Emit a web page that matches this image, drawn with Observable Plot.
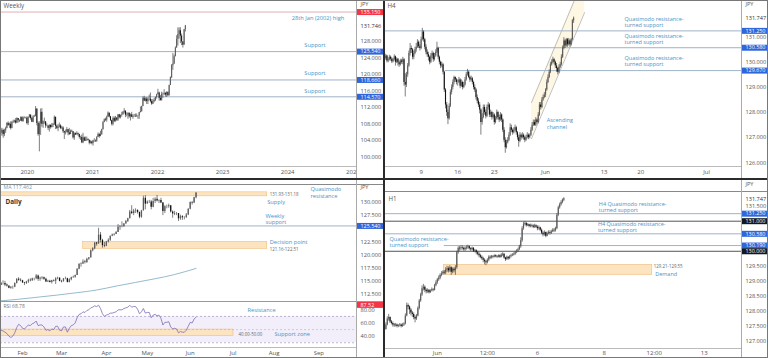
<!DOCTYPE html>
<html><head><meta charset="utf-8">
<script src="https://cdn.jsdelivr.net/npm/d3@7"></script>
<script src="https://cdn.jsdelivr.net/npm/@observablehq/plot@0.6"></script>
<style>
html,body{margin:0;padding:0;background:#fff;}
#root{position:relative;width:768px;height:358px;overflow:hidden;background:#fff;font-family:"Open Sans",sans-serif;}
#root svg{display:block;}
</style></head><body><div id="root"></div>
<script>
// ===================== DATA =====================
// ---- Weekly (weeks from 5 Aug 2019 to 6 Jun 2022) ----
const wkOpen0 = 106.6;
const wkClose = [
105.7,106.4,105.4,106.3, 106.9,108.1,107.6,107.9,106.9, 108.3,108.4,108.7,108.2, 109.3,108.8,108.7,109.5, 108.6,109.4,109.4,109.4,108.1,
109.5,110.1,109.3,108.4, 109.7,109.8,111.6,108.1, 105.4,108.0,110.8,107.9,108.5, 108.5,107.5,107.5,106.9, 107.6,107.1,107.6,107.8, 109.6,107.4,106.9,107.2,107.5, 106.9,107.0,106.1,105.8, 105.9,106.6,105.8,105.4,106.2, 106.1,104.6,105.6,105.3, 105.6,105.4,104.7,104.7, 103.4,104.6,103.8,104.1,104.2, 104.0,103.3,103.6,103.2,
103.9,103.9,103.8,104.7, 105.4,104.9,105.4,106.6, 108.3,109.0,108.9,109.6,110.6, 109.7,108.8,107.9,109.3, 108.6,109.4,108.9,110.2,109.5, 110.1,110.2,110.8,111.1, 110.1,110.1,110.6,109.7, 110.2,109.6,109.8,109.8,109.7, 109.9,109.9,110.7,111.0, 112.2,114.2,113.5,114.0, 113.4,114.0,114.0,113.4,112.8, 113.4,113.7,114.4,115.1,
115.5,114.2,113.7,115.2,115.2, 115.4,115.0,115.6,114.8, 117.3,119.2,122.1,122.5, 124.3,126.4,128.5,129.7, 130.6,129.3,127.9,127.1,130.9, 131.75];
const wkHigh = [
107.0,106.9,106.7,106.7, 107.2,108.3,108.5,108.2,108.5, 108.6,108.9,108.9,109.3, 109.5,109.3,109.0,109.7, 109.7,109.7,109.7,109.6,109.7,
109.7,110.3,110.2,109.6, 110.0,110.1,112.2,111.6, 108.5,108.5,111.6,111.7,108.7, 109.4,108.1,108.0,107.5, 107.8,107.8,108.1,108.1, 109.9,109.6,107.7,107.8,108.2, 107.8,107.4,107.3,106.2, 106.5,107.1,106.6,106.9,106.5, 106.5,106.1,105.8,105.8, 106.1,105.8,105.5,105.0, 105.3,105.7,104.8,104.8,104.8, 104.4,104.1,103.9,103.8,
104.0,104.4,104.1,104.9, 105.8,105.7,106.2,106.7, 108.6,109.2,109.4,109.9,110.9, 110.5,109.8,108.9,109.7, 109.7,109.8,109.5,110.2,110.3, 110.1,110.8,111.0,111.7, 111.0,110.7,110.6,110.6, 110.4,110.8,110.2,110.3,110.4, 110.4,110.0,110.8,112.1, 112.3,114.5,114.7,114.3, 114.4,114.3,115.0,115.5,113.9, 113.9,114.2,114.5,115.2,
116.4,115.7,114.9,115.7,115.5, 116.3,115.6,115.8,115.8, 117.4,119.4,122.4,125.1, 124.7,126.7,129.4,131.3, 131.3,131.35,129.8,127.6,130.9, 131.9];
const wkLow = [
105.3,105.0,104.5,104.9, 105.7,106.8,107.4,106.9,106.5, 106.8,108.1,108.2,107.9, 108.1,108.2,108.3,108.6, 108.4,108.4,109.2,109.2,107.8,
107.6,109.4,108.9,108.3, 108.3,109.6,109.7,107.5, 105.0,101.2,105.2,107.2,106.9, 107.9,106.9,107.3,106.4, 106.0,106.7,107.0,107.1, 107.6,106.6,106.6,106.1,107.0, 106.6,106.6,105.7,104.2, 105.3,105.8,105.1,105.2,105.6, 105.9,104.3,104.0,105.2, 105.3,105.0,104.3,104.0, 103.2,103.2,103.7,103.9,103.7, 103.9,102.9,103.1,102.9,
102.6,103.5,103.5,103.5, 104.7,104.5,104.9,105.2, 106.5,108.3,108.6,108.4,109.7, 109.4,108.6,107.5,107.5, 108.3,108.4,108.6,108.6,109.2, 109.2,109.6,110.1,110.4, 109.5,109.7,109.1,109.4, 108.7,109.5,109.1,109.6,109.6, 109.6,109.1,109.1,110.7, 110.8,112.3,113.4,113.3, 112.7,112.7,113.6,113.1,112.5, 112.7,113.1,113.4,114.0,
115.0,113.5,113.5,113.5,114.2, 114.9,114.5,114.4,114.7, 114.8,117.3,119.0,121.0, 122.4,124.3,126.4,126.9, 128.6,127.5,127.0,126.4,127.4, 130.3];
const wkSupports = [125.54, 118.66, 114.57];
const wkHistHigh = 135.15;
const wkAxisTicks = [100, 104, 108, 112, 116, 120, 124, 128];
const wkLastPrice = 131.746;
const wkYears = [2020, 2021, 2022, 2023, 2024, 2025];
const wkNotes = [
  {t: "28th Jan (2002) high", x: "2024-06-19", p: 133.75},
  {t: "Support", x: "2024-06-02", p: 127.03},
  {t: "Support", x: "2024-06-02", p: 120.31},
  {t: "Support", x: "2024-06-02", p: 115.94}
];

// ---- H4 (bars from 2 May to 6 Jun 2022, six per day) ----
const h4Open0 = 130.10;
const h4Close = [
130.15,130.25,130.05,130.10,130.20,130.12, 130.02,130.10,130.22,130.00,130.12,129.98,
129.90,130.05,130.00,130.10,129.20,129.10, 129.50,129.85,130.35,130.55,130.50,130.20,
130.35,130.50,130.60,130.80,130.62,130.55, 130.90,131.20,130.90,130.60,130.40,130.30,
130.20,130.00,130.25,130.35,130.10,130.25, 130.40,130.55,130.20,130.00,129.85,129.90,
129.60,128.90,128.30,128.00,127.75,128.25, 128.80,129.00,129.20,129.40,129.30,129.20,
129.20,129.30,129.05,129.20,129.00,129.10, 129.30,129.50,129.60,129.40,129.30,129.35,
129.20,129.00,128.90,128.60,128.45,128.30, 128.10,127.60,127.80,128.20,128.00,127.85,
128.20,128.30,127.90,128.00,127.80,127.90, 127.60,127.75,128.00,127.80,127.70,127.90,
127.70,127.30,126.90,126.60,126.80,126.90, 127.10,127.40,127.30,127.20,127.30,127.40,
127.20,127.00,126.85,127.10,127.00,127.10, 127.00,126.90,127.00,127.10,127.00,127.10,
127.30,127.50,127.60,127.50,127.70,127.60, 127.90,128.30,128.20,128.50,128.60,128.70,
128.90,129.20,129.40,129.60,129.90,130.00, 130.10,130.00,129.85,129.75,129.60,129.80,
129.90,130.20,130.55,130.85,130.65,130.90, 130.70,130.85,130.70,130.90,131.65,131.75];
const h4High = [
130.25,130.32,130.28,130.18,130.28,130.25, 130.18,130.15,130.30,130.25,130.18,130.15,
130.05,130.12,130.12,130.20,130.15,129.55, 129.60,129.95,130.45,130.75,130.65,130.55,
130.45,130.60,130.75,130.90,130.85,130.70, 131.00,131.35,131.25,130.95,130.70,130.50,
130.40,130.25,130.35,130.45,130.40,130.35, 130.50,130.80,130.60,130.25,130.05,130.00,
129.95,129.65,128.95,128.40,128.10,128.35, 128.90,129.10,129.30,129.45,129.42,129.35,
129.30,129.40,129.35,129.30,129.25,129.20, 129.40,129.60,129.72,129.65,129.45,129.45,
129.40,129.25,129.10,128.95,128.70,128.55, 128.40,128.15,127.95,128.30,128.30,128.10,
128.30,128.40,128.35,128.10,128.05,128.00, 127.95,127.85,128.10,128.05,127.90,128.00,
127.95,127.75,127.40,127.00,126.90,127.00, 127.20,127.55,127.50,127.35,127.40,127.50,
127.45,127.25,127.10,127.20,127.15,127.20, 127.15,127.05,127.10,127.20,127.15,127.15,
127.40,127.60,127.70,127.70,127.80,127.75, 128.00,128.40,128.40,128.60,128.70,128.80,
128.95,129.30,129.50,129.70,130.00,130.10, 130.20,130.15,130.05,129.95,129.80,129.90,
130.00,130.30,130.65,130.98,130.90,130.95, 130.95,130.95,130.90,130.95,131.70,131.80];
const h4Low = [
130.02,130.08,129.98,129.98,130.05,130.05, 129.95,129.98,130.05,129.85,129.95,129.85,
129.80,129.85,129.92,129.90,129.05,128.62, 129.00,129.40,129.80,130.25,130.35,130.10,
130.10,130.30,130.40,130.55,130.55,130.45, 130.50,130.85,130.80,130.50,130.30,130.20,
130.05,129.90,129.95,130.15,130.00,130.05, 130.20,130.35,130.10,129.90,129.75,129.78,
129.50,128.80,128.15,127.85,127.52,127.70, 128.20,128.70,128.90,129.10,129.20,129.10,
129.05,129.15,128.95,129.00,128.90,128.95, 129.05,129.25,129.45,129.35,129.20,129.25,
129.10,128.90,128.80,128.50,128.35,128.20, 127.95,127.10,127.50,127.75,127.90,127.75,
127.80,128.10,127.80,127.80,127.70,127.75, 127.50,127.55,127.70,127.70,127.60,127.65,
127.60,127.20,126.80,126.38,126.55,126.75, 126.85,127.05,127.20,127.10,127.15,127.25,
127.10,126.90,126.62,126.80,126.90,126.95, 126.90,126.80,126.85,126.95,126.92,126.95,
127.05,127.25,127.45,127.45,127.45,127.55, 127.55,127.85,128.10,128.15,128.45,128.55,
128.60,128.85,129.15,129.35,129.55,129.85, 129.95,129.90,129.75,129.60,129.50,129.55,
129.75,129.85,130.15,130.50,130.55,130.60, 130.60,130.65,130.60,130.65,130.85,131.55];
const h4Levels = [{v: 131.25, from: 0}, {v: 130.58, from: 43}, {v: 129.67, from: 50}];
const h4Channel = [{i: 120.5, lo: 126.96, hi: 128.40}, {i: 164, lo: 131.98, hi: 133.43}];
const h4TickIdx = [30, 60, 90, 132, 180, 210, 264];
const h4TickLab = ["9", "16", "23", "Jun", "13", "20", "Jul"];
const h4AxisTicks = [126, 127, 128, 129, 130, 131];
const h4LastPrice = 131.747;
const h4Notes = [
  {t: "Quasimodo resistance-\nturned support", i: 196.7, p: 131.61},
  {t: "Quasimodo resistance-\nturned support", i: 196.7, p: 130.93},
  {t: "Quasimodo resistance-\nturned support", i: 196.7, p: 130.06},
  {t: "Ascending\nchannel", i: 133, p: 127.56}
];

// ---- Daily (trading days 17 Jan to 6 Jun 2022, index 1..101) ----
const dOpen0 = 114.2;
const dClose = [
114.6,114.6,114.3,114.1,113.7, 113.9,113.9,114.6,115.4,115.2, 115.1,114.7,114.6,114.9,115.2,
115.1,115.5,115.5,116.0,115.4, 115.6,115.7,115.4,114.9,115.0, 114.8,115.1,115.0,115.5,115.6,
115.0,114.9,115.5,115.5,114.8, 115.3,115.7,115.8,116.1,117.3, 118.2,118.3,118.7,118.6,119.2,
119.5,120.8,121.2,122.3,122.1, 123.8,122.8,121.8,121.7,122.5, 122.8,123.6,123.8,123.9,124.3,
125.3,125.4,125.4,125.9,126.4, 126.9,128.2,127.9,128.4,128.5, 128.1,127.2,128.4,130.8,129.7,
130.1,130.1,129.1,130.2,130.6, 130.3,130.4,129.9,128.3,129.2, 129.2,129.4,128.2,127.8,127.9,
127.9,126.9,127.3,127.1,127.1, 127.6,128.7,130.0,129.9,130.9, 131.75];
const dHigh = [
114.8,115.1,115.0,114.5,114.1, 114.0,114.1,114.7,115.5,115.7, 115.5,115.2,114.8,115.0,115.4,
115.5,115.6,115.6,116.3,116.2, 115.8,115.9,115.8,115.6,115.2, 115.2,115.2,115.3,115.7,115.8,
115.7,115.2,115.5,115.8,115.6, 115.5,115.8,116.0,116.2,117.4, 118.4,118.5,119.1,119.0,119.4,
119.5,121.0,121.4,122.4,122.4, 125.1,124.3,123.0,122.4,122.6, 123.1,123.6,124.0,124.1,124.5,
125.8,125.6,126.3,126.0,126.6, 127.0,128.5,129.4,128.7,128.8, 128.6,128.2,128.5,131.2,131.3,
130.3,130.4,130.4,130.8,130.9, 131.35,130.5,130.8,130.0,129.4, 129.5,129.7,129.4,128.4,128.3,
128.1,127.9,127.6,127.5,127.3, 127.9,128.8,130.1,130.2,131.0, 131.9];
const dLow = [
114.2,114.3,114.0,113.9,113.6, 113.5,113.5,113.8,114.5,115.0, 114.9,114.6,114.2,114.4,114.6,
114.9,115.0,115.1,115.3,115.0, 115.0,115.3,115.2,114.8,114.8, 114.7,114.5,114.9,114.4,115.3,
114.9,114.7,114.9,115.3,114.7, 114.7,115.1,115.6,115.6,116.1, 117.2,117.7,118.2,118.3,118.4,
119.0,119.4,120.6,121.0,121.7, 122.4,122.3,121.3,121.4,121.6, 122.3,122.6,123.5,123.6,123.9,
124.3,124.7,125.2,125.3,126.0, 126.2,126.9,127.7,127.5,127.9, 127.8,126.9,127.0,128.4,128.6,
129.7,129.8,128.6,129.0,129.8, 130.1,129.8,129.8,127.5,127.9, 128.8,128.9,128.0,127.0,127.5,
127.5,126.4,126.6,126.6,126.7, 127.0,127.5,128.6,129.5,129.8, 130.7];
const dMaIdx = [1, 10, 20, 30, 40, 50, 60, 70, 80, 90, 101];
const dMaVal = [111.3, 111.6, 112.0, 112.4, 112.85, 113.35, 114.1, 114.8, 115.5, 116.3, 117.46];
const dRsi = [
49,48,46,44,40, 38,40,45,53,58, 56,52,51,54,57, 56,59,60,63,56, 57,57,54,49,50,
48,51,50,55,55, 49,48,54,54,46, 52,56,57,60,68, 73,74,77,76,79, 80,83,84,86,85,
87,82,74,70,72, 73,75,75,76,77, 80,80,80,82,83, 84,87,84,85,85, 81,74,77,82,75,
76,76,68,72,73, 71,72,67,57,61, 61,62,54,51,52, 51,45,47,46,46, 49,55,61,60,66, 69];
const dZones = [{from: 0, to: 137.5, lo: 131.18, hi: 131.93}, {from: 43.1, to: 137.5, lo: 121.16, hi: 122.51}];
const dWeeklySupport = 125.54;
const dTickIdx = [12, 32, 55, 76, 98, 120, 141, 164];
const dTickLab = ["Feb", "Mar", "Apr", "May", "Jun", "Jul", "Aug", "Sep"];
const dAxisTicks = [112.5, 115, 117.5, 120, 122.5, 127.5, 130];
const dNotes = [
  {t: "Quasimodo\nresistance", i: 159.7, p: 131.94},
  {t: "Supply", i: 137.5, p: 130.13},
  {t: "Weekly\nsupport", i: 136.6, p: 126.86},
  {t: "Decision point", i: 138.8, p: 122.52}
];
const dRangeNotes = [{t: "131.93-131.18", i: 138.8, p: 131.52}, {t: "121.16-122.51", i: 138.8, p: 121.12}];
const rsiBand = [{lo: 30, hi: 70}];
const rsiZone = [{from: 0, to: 120.2, lo: 40, hi: 50}];
const rsiDashes = [70, 30];
const rsiMid = [50];
const rsiAxisTicks = [40, 60, 80];
const rsiTag = 87.52;
const rsiNotes = [{t: "Resistance", i: 127.4, v: 80}, {t: "Support zone", i: 141.2, v: 43}];
const rsiRangeNote = [{t: "40.00-50.00", i: 122.8, v: 43}];

// ---- H1 (bars from 30 May 10:00 to 6 Jun 19:00) ----
const h1Open0 = 127.35;
const h1Close = [
127.40,127.55,127.75,127.80,127.65,127.60,127.55,127.52,127.55,127.50,
127.52,127.55,127.50,127.55,127.58,127.85,128.20,128.15,128.05,127.95,
127.90,127.80,127.75,127.85,128.10,128.35,128.55,128.75,128.80,128.70,
128.65,128.70,128.62,128.68,128.72,128.70,128.85,128.95,129.05,129.10,
129.20,129.25,129.30,129.28,129.38,129.42,129.35,129.45,129.30,129.40,
129.35,129.45,129.95,130.10,130.08,130.12,130.10,130.05,130.10,130.12,
130.15,130.08,130.05,130.10,130.00,130.02,129.95,129.90,129.85,129.80,
129.75,129.70,129.65,129.62,129.70,129.80,129.78,129.82,129.80,129.85,
129.82,129.80,129.85,129.80,129.88,129.90,129.78,129.72,129.80,129.75,
129.82,129.85,129.88,129.90,129.95,130.00,130.05,130.15,130.35,130.75,
130.90,130.92,130.85,130.88,130.82,130.86,130.84,130.80,130.85,130.80,
130.75,130.78,130.70,130.60,130.55,130.62,130.50,130.58,130.62,130.60,
130.65,130.70,130.68,130.75,131.20,131.45,131.55,131.62,131.70,131.75];
const h1High = [
127.45,127.62,127.82,127.90,127.82,127.70,127.65,127.60,127.60,127.58,
127.56,127.60,127.58,127.60,127.62,127.92,128.28,128.25,128.18,128.10,
128.00,127.95,127.85,127.90,128.15,128.40,128.60,128.85,128.90,128.85,
128.75,128.75,128.72,128.72,128.78,128.76,128.90,129.02,129.10,129.18,
129.25,129.32,129.35,129.36,129.45,129.50,129.48,129.52,129.48,129.45,
129.45,129.52,130.00,130.15,130.16,130.18,130.18,130.14,130.15,130.18,
130.20,130.18,130.12,130.14,130.12,130.06,130.05,130.00,129.95,129.90,
129.85,129.80,129.75,129.70,129.75,129.85,129.85,129.86,129.86,129.88,
129.88,129.86,129.88,129.88,129.92,129.95,129.92,129.80,129.84,129.82,
129.86,129.90,129.92,129.95,130.00,130.05,130.10,130.20,130.45,130.82,
130.96,130.98,130.96,130.92,130.90,130.90,130.90,130.88,130.90,130.88,
130.85,130.84,130.80,130.74,130.65,130.68,130.64,130.64,130.68,130.68,
130.70,130.75,130.76,130.80,131.25,131.50,131.60,131.68,131.74,131.78];
const h1Low = [
127.30,127.38,127.52,127.68,127.60,127.55,127.48,127.47,127.48,127.45,
127.46,127.48,127.45,127.47,127.50,127.55,127.82,128.05,127.90,127.85,
127.80,127.72,127.62,127.70,127.82,128.05,128.30,128.50,128.68,128.62,
128.58,128.60,128.58,128.60,128.65,128.65,128.68,128.82,128.90,129.00,
129.05,129.15,129.20,129.22,129.22,129.30,129.28,129.30,129.20,129.25,
129.28,129.20,129.40,129.90,130.00,130.02,130.04,130.00,130.00,130.04,
130.06,130.04,130.00,130.02,129.96,129.95,129.88,129.85,129.78,129.75,
129.70,129.62,129.55,129.52,129.58,129.65,129.72,129.74,129.75,129.78,
129.78,129.76,129.78,129.76,129.78,129.82,129.74,129.66,129.70,129.70,
129.72,129.78,129.82,129.84,129.86,129.92,129.96,130.02,130.10,130.30,
130.70,130.84,130.80,130.82,130.78,130.78,130.78,130.75,130.76,130.76,
130.68,130.70,130.65,130.55,130.48,130.50,130.45,130.48,130.55,130.54,
130.56,130.62,130.62,130.64,130.72,131.15,131.40,131.50,131.58,131.65];
const h1Levels = [
  {v: 131.25, from: 0, c: "#9fb3c8"}, {v: 131.0, from: 0, c: "#555"},
  {v: 130.58, from: 0, c: "#9fb3c8"}, {v: 130.19, from: 43, c: "#9fb3c8"}, {v: 130.0, from: 0, c: "#555"}
];
const h1Demand = [{from: 42.7, to: 192.6, lo: 129.21, hi: 129.55}];
const h1TickIdx = [38, 74, 110, 158, 194, 230];
const h1TickLab = ["Jun", "12:00", "6", "8", "12:00", "13"];
const h1AxisTicks = [127, 127.5, 128, 128.5, 129, 129.5, 131.5];
const h1LastPrice = 131.747;
const h1Notes = [
  {t: "H4 Quasimodo resistance-\nturned support", i: 154.2, p: 131.47},
  {t: "H4 Quasimodo resistance-\nturned support", i: 153.5, p: 130.805},
  {t: "Quasimodo resistance-\nturned support", i: 3.6, p: 130.30},
  {t: "Demand", i: 194.7, p: 129.24}
];
const h1RangeNote = [{t: "129.21-129.55", i: 193.7, p: 129.49}];

// ===================== DRAWING =====================
const FONT = "'Open Sans', sans-serif";
const TXT = "#4b93c6", AX = "#555", LVL = "#9fb3c8", BLUE = "#2f66d9", DARK = "#131722", RED = "#f23645";
const BAND_FILL = "#fde4c0", BAND_STROKE = "#f0bd7c";
const root = document.getElementById("root");
const baseStyle = {fontFamily: FONT, fontSize: "6px", color: AX, background: "white", overflow: "visible"};

function place(node, left, top, w, h) {
  const d = document.createElement("div");
  d.style.cssText = `position:absolute;left:${left}px;top:${top}px;width:${w}px;height:${h}px;`;
  d.appendChild(node); root.appendChild(d);
}
function bar(left, top, w, h, color) {
  const d = document.createElement("div");
  d.style.cssText = `position:absolute;left:${left}px;top:${top}px;width:${w}px;height:${h}px;background:${color};`;
  root.appendChild(d);
}
function candles(xs, open0, close, high, low) {
  return close.map((c, k) => {
    const o = k === 0 ? open0 : close[k - 1];
    return {x: xs[k], o, c, h: Math.max(high[k], o, c), l: Math.min(low[k], o, c)};
  });
}
function candleMarks(data, w) {
  return [
    Plot.ruleX(data, {x: "x", y1: "l", y2: "h", stroke: "#2a2a2a", strokeWidth: 0.6, clip: true}),
    Plot.ruleX(data, {x: "x", y1: "o", y2: "c", stroke: d => d.c >= d.o ? "#5c5c5c" : "#111", strokeWidth: w, clip: true})
  ];
}
function axisColumn({width = 27, height, marginTop = 0, marginBottom = 0, domain, ticks, digits = 3, tags = [], plain = [], jpy = true, jpyDy = 2}) {
  const fmt = v => v.toFixed(digits);
  return Plot.plot({
    width, height, marginTop, marginBottom, marginLeft: 0, marginRight: 0,
    y: {domain, axis: null}, color: {type: "identity"}, style: baseStyle,
    marks: [
      Plot.text(ticks, {y: d => d, text: d => fmt(d), frameAnchor: "left", dx: 4, fill: AX, fontSize: 5.6}),
      Plot.text(plain, {y: d => d, text: d => fmt(d), frameAnchor: "left", dx: 4, fill: "#333", fontSize: 5.6}),
      Plot.tickY(tags, {y: "v", stroke: "bg", strokeWidth: 6}),
      Plot.text(tags, {y: "v", text: d => fmt(d.v), frameAnchor: "left", dx: 4, fill: "white", fontSize: 5.4}),
      jpy ? Plot.text(["JPY"], {text: d => d, frameAnchor: "top-left", dx: 4, dy: jpyDy, fill: AX, fontSize: 5.6}) : null
    ]
  });
}
function title(t, dx, dy, opts = {}) {
  return Plot.text([t], {text: d => d, frameAnchor: "top-left", dx, dy, fill: AX, fontSize: 6.2, ...opts});
}

// ---- Weekly panel ----
const wkXs = wkClose.map((_, k) => new Date(Date.UTC(2019, 7, 5) + k * 7 * 864e5));
const wkData = candles(wkXs, wkOpen0, wkClose, wkHigh, wkLow);
const wkDomain = [97.65, 137.95];
place(Plot.plot({
  width: 356, height: 178, marginTop: 0, marginBottom: 12, marginLeft: 0, marginRight: 0,
  x: {type: "utc", domain: [new Date(Date.UTC(2019, 7, 4)), new Date(Date.UTC(2025, 0, 21))],
      ticks: wkYears.map(y => new Date(Date.UTC(y, 0, 1))), tickFormat: d3.utcFormat("%Y"), tickSize: 0, tickPadding: 3, label: null},
  y: {domain: wkDomain, axis: null}, color: {type: "identity"}, style: baseStyle,
  marks: [
    Plot.ruleY([wkHistHigh], {stroke: "#dfb0b0", strokeWidth: 1}),
    Plot.ruleY(wkSupports, {stroke: LVL, strokeWidth: 1}),
    ...candleMarks(wkData, 1),
    Plot.text(wkNotes, {x: d => new Date(d.x), y: "p", text: "t", fill: TXT, fontSize: 5.7}),
    title("Weekly", 3, 3)
  ]
}), 0, 0, 356, 178);
place(axisColumn({width: 28, height: 178, marginBottom: 12, domain: wkDomain, ticks: wkAxisTicks, plain: [wkLastPrice],
  tags: [{v: wkHistHigh, bg: RED}, ...wkSupports.map(v => ({v, bg: BLUE}))]}), 356, 0, 28, 178);

// ---- H4 panel ----
const H4X = [0, 292.6];
const h4Data = candles(h4Close.map((_, k) => k), h4Open0, h4Close, h4High, h4Low);
const h4Domain = [125.854, 132.459];
place(Plot.plot({
  width: 357, height: 178, marginTop: 0, marginBottom: 12, marginLeft: 0, marginRight: 0,
  x: {domain: H4X, ticks: h4TickIdx, tickFormat: d => h4TickLab[h4TickIdx.indexOf(d)], tickSize: 0, tickPadding: 3, label: null},
  y: {domain: h4Domain, axis: null}, color: {type: "identity"}, style: baseStyle,
  marks: [
    Plot.areaY(h4Channel, {x: "i", y1: "lo", y2: "hi", fill: "#fdf7e4", clip: true}),
    Plot.line(h4Channel, {x: "i", y: "lo", stroke: "#a5a5a5", strokeWidth: 0.7, clip: true}),
    Plot.line(h4Channel, {x: "i", y: "hi", stroke: "#a5a5a5", strokeWidth: 0.7, clip: true}),
    Plot.ruleY(h4Levels, {y: "v", x1: "from", x2: H4X[1], stroke: LVL, strokeWidth: 1}),
    ...candleMarks(h4Data, 1.1),
    Plot.text(h4Notes, {x: "i", y: "p", text: "t", textAnchor: "start", lineHeight: 1.15, fill: TXT, fontSize: 5.5}),
    title("H4", 3, 3)
  ]
}), 384, 0, 357, 178);
place(axisColumn({height: 178, marginBottom: 12, domain: h4Domain, ticks: h4AxisTicks, plain: [h4LastPrice],
  tags: h4Levels.map(d => ({v: d.v, bg: BLUE}))}), 741, 0, 27, 178);

// ---- Daily panel ----
const DX = [0.7, 183.3];
const dData = candles(dClose.map((_, k) => k + 1), dOpen0, dClose, dHigh, dLow);
const dDomain = [111.168, 133.424];
place(Plot.plot({
  width: 356, height: 117, marginTop: 0, marginBottom: 0, marginLeft: 0, marginRight: 0,
  x: {domain: DX, axis: null}, y: {domain: dDomain, axis: null}, color: {type: "identity"}, style: baseStyle,
  marks: [
    Plot.rect(dZones, {x1: "from", x2: "to", y1: "lo", y2: "hi", fill: BAND_FILL, stroke: BAND_STROKE, strokeWidth: 0.6, clip: true}),
    Plot.ruleY([dWeeklySupport], {stroke: LVL, strokeWidth: 1}),
    Plot.line(dMaIdx.map((i, k) => ({i, v: dMaVal[k]})), {x: "i", y: "v", stroke: "#7aa9bf", strokeWidth: 0.8, curve: "natural", clip: true}),
    ...candleMarks(dData, 1.3),
    Plot.text(dNotes, {x: "i", y: "p", text: "t", textAnchor: "start", lineHeight: 1.15, fill: TXT, fontSize: 5.7}),
    Plot.text(dRangeNotes, {x: "i", y: "p", text: "t", textAnchor: "start", fill: "#666", fontSize: 4.4}),
    title("MA 117.462", 3, 1, {fill: "#6a9ec0", fontSize: 5.2}),
    title("Daily", 5, 14.5, {fill: "#333", fontWeight: "bold", fontSize: 6.4})
  ]
}), 0, 184, 356, 117);
place(axisColumn({width: 28, height: 117, domain: dDomain, ticks: dAxisTicks, plain: [],
  tags: [{v: dWeeklySupport, bg: BLUE}], jpyDy: 0.5}), 356, 184, 28, 117);

const rsiDomain = [22.78, 92.66];
place(Plot.plot({
  width: 356, height: 57, marginTop: 0, marginBottom: 11, marginLeft: 0, marginRight: 0,
  x: {domain: DX, ticks: dTickIdx, tickFormat: d => dTickLab[dTickIdx.indexOf(d)], tickSize: 0, tickPadding: 3, label: null},
  y: {domain: rsiDomain, axis: null}, color: {type: "identity"}, style: baseStyle,
  marks: [
    Plot.rect(rsiBand, {x1: DX[0], x2: DX[1], y1: "lo", y2: "hi", fill: "#f3effa"}),
    Plot.rect(rsiZone, {x1: "from", x2: "to", y1: "lo", y2: "hi", fill: BAND_FILL, stroke: BAND_STROKE, strokeWidth: 0.6, clip: true}),
    Plot.ruleY(rsiDashes, {stroke: "#a39ac2", strokeWidth: 0.7, strokeDasharray: "2,2"}),
    Plot.ruleY(rsiMid, {stroke: "#b9b2cf", strokeWidth: 0.6, strokeDasharray: "2,2"}),
    Plot.line(dRsi.map((v, k) => ({i: k + 1, v})), {x: "i", y: "v", stroke: "#7c6cb4", strokeWidth: 0.8, clip: true}),
    Plot.text(rsiNotes, {x: "i", y: "v", text: "t", textAnchor: "start", fill: TXT, fontSize: 5.7}),
    Plot.text(rsiRangeNote, {x: "i", y: "v", text: "t", textAnchor: "start", fill: "#666", fontSize: 4.4}),
    title("RSI 68.78", 3, 2.5, {fill: "#777", fontSize: 5})
  ]
}), 0, 301, 356, 57);
place(axisColumn({width: 28, height: 57, marginBottom: 11, domain: rsiDomain, ticks: rsiAxisTicks, digits: 2,
  tags: [{v: rsiTag, bg: RED}], jpy: false}), 356, 301, 28, 57);

// ---- H1 panel ----
const H1X = [0, 256.8];
const h1Data = candles(h1Close.map((_, k) => k), h1Open0, h1Close, h1High, h1Low);
const h1Domain = [126.767, 132.353];
place(Plot.plot({
  width: 357, height: 178, marginTop: 0, marginBottom: 10, marginLeft: 0, marginRight: 0,
  x: {domain: H1X, ticks: h1TickIdx, tickFormat: d => h1TickLab[h1TickIdx.indexOf(d)], tickSize: 0, tickPadding: 2, label: null},
  y: {domain: h1Domain, axis: null}, color: {type: "identity"}, style: baseStyle,
  marks: [
    Plot.rect(h1Demand, {x1: "from", x2: "to", y1: "lo", y2: "hi", fill: BAND_FILL, stroke: BAND_STROKE, strokeWidth: 0.6}),
    Plot.ruleY(h1Levels, {y: "v", x1: "from", x2: H1X[1], stroke: "c", strokeWidth: 1}),
    ...candleMarks(h1Data, 1.2),
    Plot.text(h1Notes, {x: "i", y: "p", text: "t", textAnchor: "start", lineHeight: 1.15, fill: TXT, fontSize: 5.5}),
    Plot.text(h1RangeNote, {x: "i", y: "p", text: "t", textAnchor: "start", fill: "#666", fontSize: 4.4}),
    title("H1", 4, 16)
  ]
}), 384, 180, 357, 178);
place(axisColumn({height: 178, marginBottom: 10, domain: h1Domain, ticks: h1AxisTicks, plain: [h1LastPrice],
  tags: h1Levels.map(d => ({v: d.v, bg: d.c === "#555" ? DARK : BLUE}))}), 741, 180, 27, 178);

// ---- frame lines (layout) ----
bar(356, 0, 1, 178, "#aaa"); bar(0, 166, 356, 1, "#bbb");
bar(741, 0, 1, 178, "#aaa"); bar(384, 166, 357, 1, "#bbb");
bar(0, 184, 384, 1, "#888"); bar(0, 301, 384, 1, "#999"); bar(0, 347, 356, 1, "#bbb"); bar(356, 180, 1, 178, "#aaa");
bar(384, 191, 384, 1, "#888"); bar(384, 348, 357, 1, "#bbb"); bar(741, 180, 1, 178, "#aaa");
bar(0, 178, 768, 2, "#2b2b2b"); bar(383, 0, 2, 358, "#2b2b2b");
const border = document.createElement("div");
border.style.cssText = "position:absolute;left:0;top:0;width:766px;height:356px;border:1px solid #777;pointer-events:none;";
root.appendChild(border);
</script></body></html>
